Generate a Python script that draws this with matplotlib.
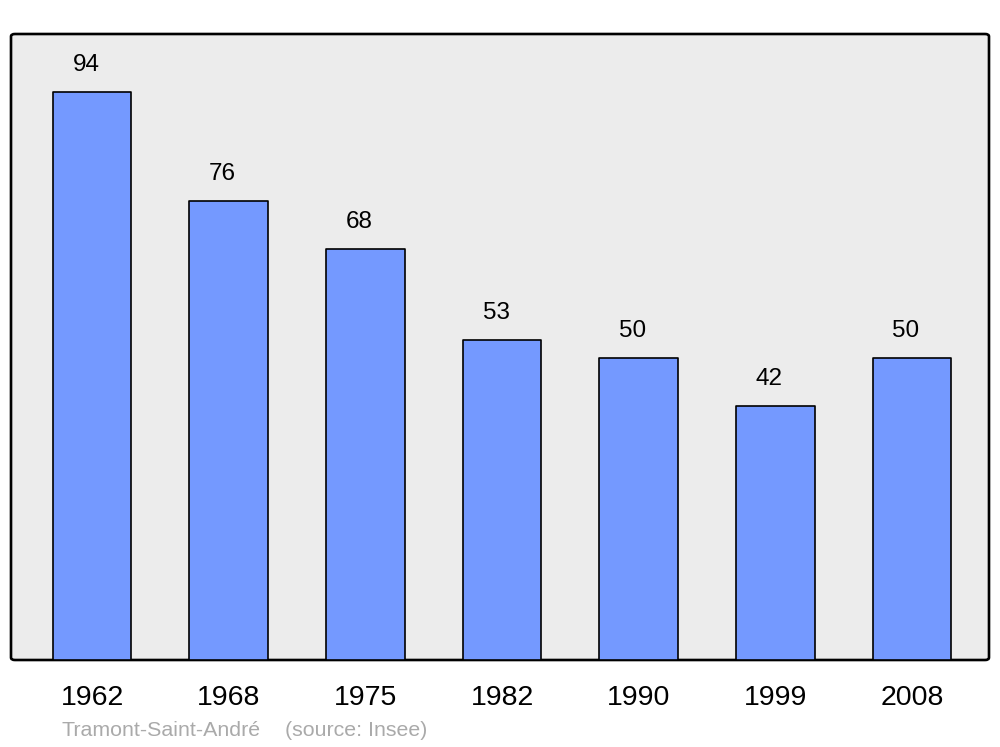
import matplotlib
matplotlib.use("Agg")
import matplotlib.pyplot as plt
from matplotlib.patches import FancyBboxPatch
from matplotlib.transforms import offset_copy

years = ["1962", "1968", "1975", "1982", "1990", "1999", "2008"]
population = [94, 76, 68, 53, 50, 42, 50]
caption_place = "Tramont-Saint-André"
caption_source = "(source: Insee)"

plt.rcParams['font.family'] = ['Liberation Sans', 'DejaVu Sans']

fig = plt.figure(figsize=(10, 7.47), dpi=100)
ax = fig.add_axes([0.011, 1 - 660 / 747, 0.978, (660 - 34) / 747])
ax.patch.set_visible(False)
for s in ax.spines.values():
    s.set_visible(False)

frame = FancyBboxPatch((0, 0), 1, 1, boxstyle="round,pad=0,rounding_size=0.004",
                       transform=ax.transAxes, facecolor="#ECECEC", edgecolor="black",
                       linewidth=1.9, clip_on=False, zorder=0)
ax.add_patch(frame)

x = list(range(len(years)))
ax.bar(x, population, width=0.575, color="#7499FF", edgecolor="black",
       linewidth=1.2, joinstyle="round", zorder=2)

ax.set_xlim(-0.593, 6.563)
ax.set_ylim(0, 103.6)
ax.set_yticks([])
ax.set_xticks(x)
ax.set_xticklabels(years, fontsize=20.5)
ax.tick_params(axis="x", length=0, pad=18)

for xi, v in zip(x, population):
    tr = offset_copy(ax.transData, fig=fig, x=-6, y=27, units="dots")
    ax.text(xi, v, str(v), transform=tr, ha="center", va="center", fontsize=17.5)

fig.text(61 / 1000, 1 - 730 / 747, caption_place, fontsize=15.4, color="#AAAAAA",
         ha="left", va="center")
fig.text(285 / 1000, 1 - 730 / 747, caption_source, fontsize=15.4, color="#AAAAAA",
         ha="left", va="center")

fig.savefig("out.png", dpi=100, facecolor="white")
